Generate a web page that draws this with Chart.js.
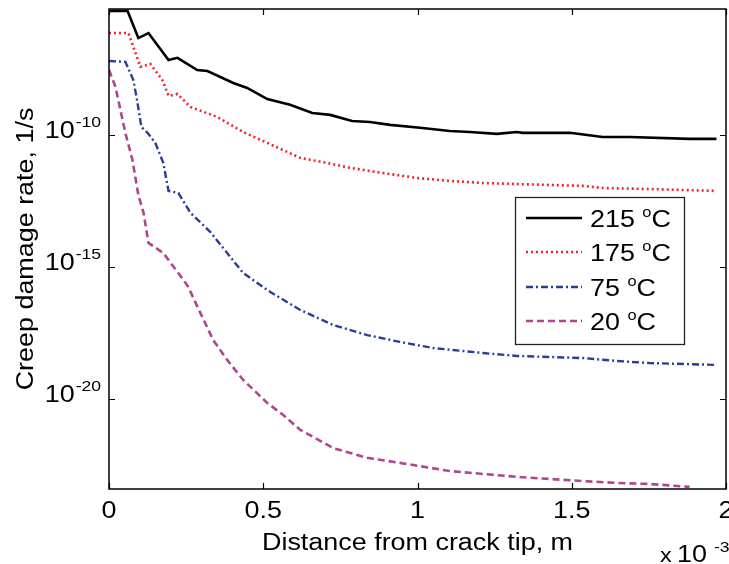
<!DOCTYPE html>
<html>
<head>
<meta charset="utf-8">
<script src="https://cdn.jsdelivr.net/npm/chart.js@4.4.1/dist/chart.umd.min.js"></script>
<style>
  html, body { margin: 0; padding: 0; background: #fff; }
  canvas { display: block; }
</style>
</head>
<body>
<canvas id="chart" width="729" height="564"></canvas>
<script>
// distance from crack tip in units of 1e-3 m, rates stored as log10 (1/s)
const dist215 = [0, 0.06, 0.095, 0.128, 0.193, 0.222, 0.286, 0.319, 0.403, 0.448, 0.513, 0.587, 0.659, 0.717, 0.788, 0.846, 0.911, 1.008, 1.105, 1.170, 1.257, 1.322, 1.341, 1.494, 1.600, 1.688, 1.882, 1.969];
const logRate215 = [-5.30, -5.30, -6.33, -6.14, -7.16, -7.08, -7.54, -7.58, -8.03, -8.22, -8.64, -8.86, -9.17, -9.24, -9.47, -9.51, -9.62, -9.73, -9.85, -9.89, -9.96, -9.89, -9.92, -9.92, -10.08, -10.08, -10.15, -10.15];

const dist175 = [0, 0.063, 0.102, 0.134, 0.173, 0.193, 0.222, 0.264, 0.351, 0.435, 0.513, 0.620, 0.707, 0.782, 0.888, 0.998, 1.105, 1.212, 1.322, 1.536, 1.600, 1.752, 1.969];
const logRate175 = [-6.14, -6.14, -7.42, -7.31, -7.92, -8.52, -8.45, -8.94, -9.32, -9.89, -10.30, -10.87, -11.06, -11.25, -11.44, -11.63, -11.74, -11.82, -11.86, -11.93, -12.01, -12.05, -12.12];

const dist75 = [0, 0.053, 0.079, 0.092, 0.105, 0.125, 0.150, 0.176, 0.193, 0.225, 0.264, 0.328, 0.383, 0.435, 0.523, 0.620, 0.727, 0.837, 0.943, 1.050, 1.212, 1.322, 1.429, 1.536, 1.646, 1.752, 1.969];
const logRate75 = [-7.20, -7.23, -7.92, -8.75, -9.70, -9.92, -10.30, -11.06, -12.12, -12.20, -12.95, -13.67, -14.47, -15.23, -15.95, -16.63, -17.20, -17.58, -17.84, -18.07, -18.26, -18.37, -18.41, -18.45, -18.56, -18.64, -18.71];

const dist20 = [0, 0.021, 0.037, 0.053, 0.076, 0.095, 0.112, 0.128, 0.176, 0.241, 0.257, 0.296, 0.338, 0.383, 0.435, 0.513, 0.565, 0.620, 0.727, 0.837, 0.943, 1.105, 1.212, 1.322, 1.429, 1.536, 1.646, 1.752, 1.882];
const logRate20 = [-7.54, -8.18, -9.05, -9.92, -10.95, -12.27, -12.95, -14.09, -14.47, -15.49, -15.76, -16.74, -17.77, -18.52, -19.28, -20.15, -20.61, -21.17, -21.86, -22.23, -22.42, -22.73, -22.84, -22.95, -23.03, -23.11, -23.18, -23.22, -23.33];

const seriesLabels = ['215', '175', '75', '20'];
const xTicks = [0, 0.5, 1, 1.5, 2];
const xTickLabels = ['0', '0.5', '1', '1.5', '2'];
const yTickExps = [-10, -15, -20];
const yRange = [-23.41, -5.23];

const FONT = '"Liberation Sans", Arial, sans-serif';
const SX = 1.17; // glyphs run wide along the baseline

function points(xs, logs) {
  return xs.map((x, i) => ({ x: x, y: Math.pow(10, logs[i]) }));
}

const styles = [
  { color: '#000000', width: 2.6, dash: [] },
  { color: '#f5222a', width: 2.6, dash: [2, 3] },
  { color: '#2c3d98', width: 2.4, dash: [7, 3, 2, 3] },
  { color: '#b0468e', width: 2.6, dash: [7, 4] }
];

const datasets = [
  points(dist215, logRate215),
  points(dist175, logRate175),
  points(dist75, logRate75),
  points(dist20, logRate20)
].map((data, i) => ({
  label: seriesLabels[i] + ' \u00b0C',
  data: data,
  borderColor: styles[i].color,
  borderWidth: styles[i].width,
  borderDash: styles[i].dash,
  pointRadius: 0,
  tension: 0,
  fill: false
}));

function wideText(ctx, str, x, y, size, align) {
  ctx.save();
  ctx.font = size + 'px ' + FONT;
  ctx.translate(x, y);
  ctx.scale(SX, 1);
  ctx.textAlign = align || 'left';
  ctx.textBaseline = 'alphabetic';
  ctx.fillText(str, 0, 0);
  ctx.restore();
}

function textWidth(ctx, str, size) {
  ctx.save();
  ctx.font = size + 'px ' + FONT;
  const w = ctx.measureText(str).width * SX;
  ctx.restore();
  return w;
}

const axesBox = {
  id: 'axesBox',
  afterDatasetsDraw(chart) {
    const { ctx, chartArea: a, scales: { x, y } } = chart;
    ctx.save();
    ctx.fillStyle = '#000';
    ctx.strokeStyle = '#000';
    ctx.lineWidth = 1.5;
    ctx.setLineDash([]);
    ctx.strokeRect(a.left, a.top, a.right - a.left, a.bottom - a.top);

    // inward ticks on all four sides
    ctx.beginPath();
    xTicks.forEach(v => {
      const px = Math.round(x.getPixelForValue(v)) + 0.5;
      ctx.moveTo(px, a.bottom); ctx.lineTo(px, a.bottom - 6);
      ctx.moveTo(px, a.top); ctx.lineTo(px, a.top + 6);
    });
    yTickExps.forEach(e => {
      const py = Math.round(y.getPixelForValue(Math.pow(10, e))) + 0.5;
      ctx.moveTo(a.left, py); ctx.lineTo(a.left + 6, py);
      ctx.moveTo(a.right, py); ctx.lineTo(a.right - 6, py);
    });
    ctx.lineWidth = 1.2;
    ctx.stroke();

    // x tick labels
    xTicks.forEach((v, i) => {
      wideText(ctx, xTickLabels[i], x.getPixelForValue(v), 518, 23, 'center');
    });

    // y tick labels as 10 with a raised exponent
    yTickExps.forEach(e => {
      const py = y.getPixelForValue(Math.pow(10, e));
      const expStr = String(e);
      const ew = textWidth(ctx, expStr, 15);
      const right = a.left - 8;
      wideText(ctx, expStr, right - ew, py - 8, 15, 'left');
      wideText(ctx, '10', right - ew - 1, py + 3, 23, 'right');
    });

    // scale factor under the x axis
    wideText(ctx, 'x', 660, 562, 20, 'left');
    wideText(ctx, '10', 677, 562, 23, 'left');
    wideText(ctx, '-3', 714, 552, 15, 'left');

    // axis titles
    wideText(ctx, 'Distance from crack tip, m', (a.left + a.right) / 2, 550, 23, 'center');
    ctx.save();
    ctx.translate(33, (a.top + a.bottom) / 2);
    ctx.rotate(-Math.PI / 2);
    ctx.scale(SX, 1);
    ctx.font = '23px ' + FONT;
    ctx.textAlign = 'center';
    ctx.fillText('Creep damage rate, 1/s', 0, 0);
    ctx.restore();

    // legend
    const lx = 515, ly = 197, lw = 169, lh = 147;
    ctx.fillStyle = '#fff';
    ctx.fillRect(lx, ly, lw, lh);
    ctx.strokeStyle = '#222';
    ctx.lineWidth = 1.3;
    ctx.strokeRect(lx + 0.5, ly + 0.5, lw, lh);
    const rows = [218, 252, 287, 321];
    chart.data.datasets.forEach((ds, i) => {
      const ry = rows[i];
      ctx.beginPath();
      ctx.strokeStyle = ds.borderColor;
      ctx.lineWidth = ds.borderWidth;
      ctx.setLineDash(ds.borderDash);
      ctx.moveTo(526, ry); ctx.lineTo(582, ry);
      ctx.stroke();
      ctx.setLineDash([]);
      ctx.fillStyle = '#000';
      const num = seriesLabels[i] + ' ';
      const tx = 590;
      wideText(ctx, num, tx, ry + 9, 23, 'left');
      const nw = textWidth(ctx, num, 23);
      wideText(ctx, 'o', tx + nw, ry - 1, 14, 'left');
      wideText(ctx, 'C', tx + nw + textWidth(ctx, 'o', 14), ry + 9, 23, 'left');
    });
    ctx.restore();
  }
};

new Chart(document.getElementById('chart'), {
  type: 'line',
  data: { datasets },
  options: {
    responsive: false,
    devicePixelRatio: 1,
    animation: false,
    layout: { padding: { top: 9, right: 3, left: 0, bottom: 0 } },
    plugins: {
      legend: { display: false },
      tooltip: { enabled: false }
    },
    scales: {
      x: {
        type: 'linear',
        min: 0,
        max: 2,
        grid: { display: false },
        border: { display: false },
        ticks: { display: false },
        afterFit(scale) { scale.height = 75; }
      },
      y: {
        type: 'logarithmic',
        min: Math.pow(10, yRange[0]),
        max: Math.pow(10, yRange[1]),
        grid: { display: false },
        border: { display: false },
        ticks: { display: false },
        afterFit(scale) { scale.width = 109; }
      }
    }
  },
  plugins: [axesBox]
});
</script>
</body>
</html>
